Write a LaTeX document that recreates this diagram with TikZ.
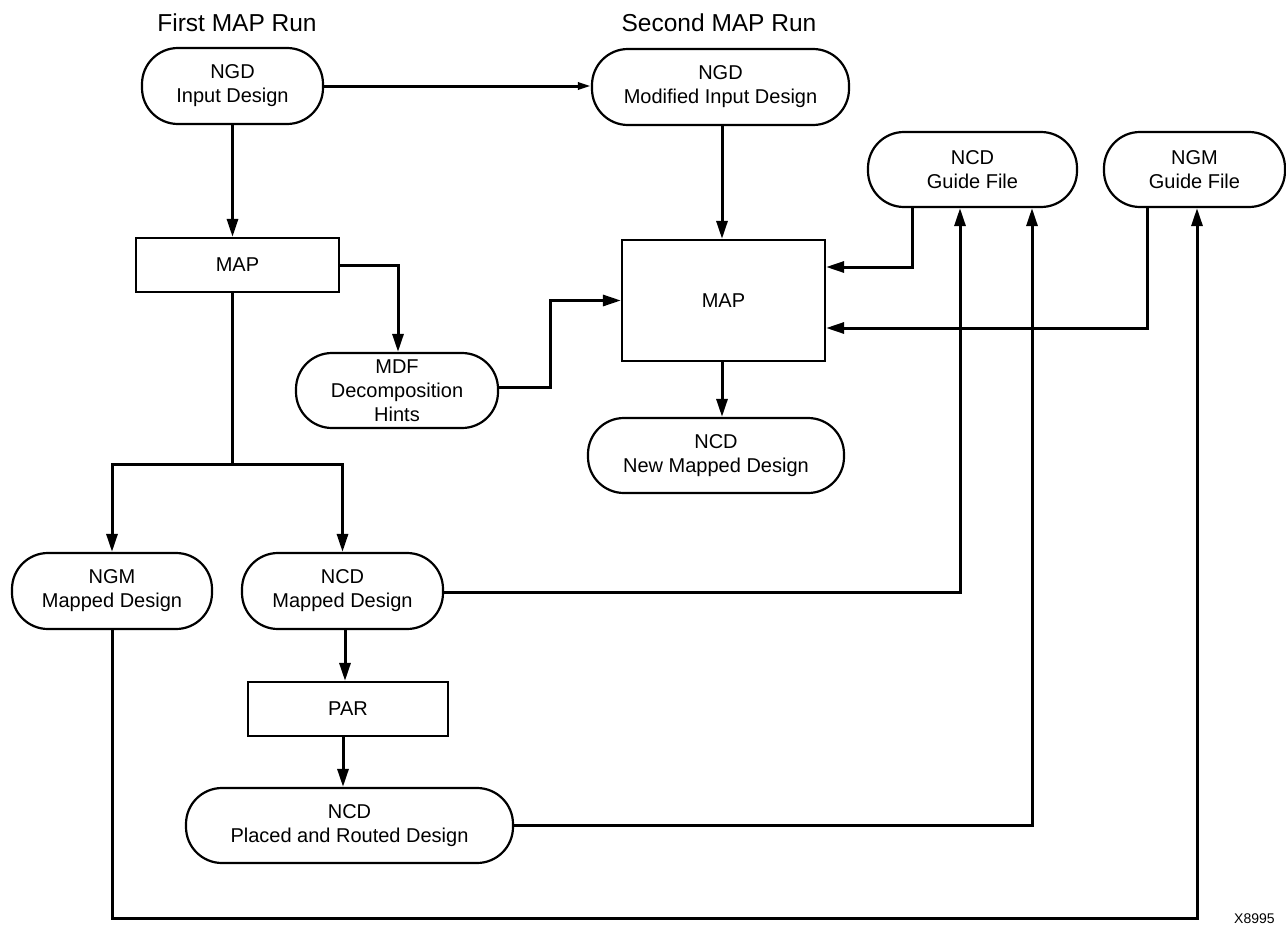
\documentclass[tikz,border=0pt]{standalone}
\usepackage{fontspec}
\setmainfont{Liberation Sans}
\usetikzlibrary{arrows.meta}
\newcommand{\bxf}{\fontsize{20}{24}\selectfont}
\newcommand{\ttlf}{\fontsize{24.5}{28}\selectfont}
\begin{document}
\begin{tikzpicture}[x=1pt,y=-1pt,
  term/.style={draw, line width=2.2pt, rounded corners=36pt, align=center, inner sep=0pt, font=\bxf},
  procbox/.style={draw, line width=2.2pt, align=center, inner sep=0pt, font=\bxf},
  conn/.style={line width=3pt, -{Triangle[length=18pt,width=11pt]}},
  smallconn/.style={line width=3pt, -{Triangle[length=13pt,width=7pt]}},
  plain/.style={line width=3pt},
  ttl/.style={inner sep=0pt, font=\ttlf}]
\useasboundingbox (0,0) rectangle (1286,926);
% titles
\node[ttl] (t1) at (237,23) {First MAP Run};
\node[ttl] (t2) at (719,23) {Second MAP Run};
% nodes
\node[term, minimum width=181pt, minimum height=76pt] (ngd1) at (232.5,86) {NGD\\Input Design};
\node[term, minimum width=257pt, minimum height=76pt] (ngd2) at (720.5,87) {NGD\\Modified Input Design};
\node[procbox, minimum width=203pt, minimum height=54pt] (map1) at (237.5,265) {MAP};
\node[procbox, minimum width=203pt, minimum height=121pt] (map2) at (723.5,300.5) {MAP};
\node[term, minimum width=209pt, minimum height=75pt] (ncdg) at (972.5,169.5) {NCD\\Guide File};
\node[term, minimum width=181pt, minimum height=75pt] (ngmg) at (1194.5,169.5) {NGM\\Guide File};
\node[term, minimum width=202pt, minimum height=75pt] (mdf) at (397,390.5) {MDF\\Decomposition\\Hints};
\node[term, minimum width=256pt, minimum height=75pt] (ncdnew) at (716,455.5) {NCD\\New Mapped Design};
\node[term, minimum width=200pt, minimum height=76pt] (ngmm) at (112,591) {NGM\\Mapped Design};
\node[term, minimum width=201pt, minimum height=76pt] (ncdm) at (342.5,591) {NCD\\Mapped Design};
\node[procbox, minimum width=200pt, minimum height=54pt] (par) at (348,709) {PAR};
\node[term, minimum width=327pt, minimum height=75pt] (pr) at (349.5,825.5) {NCD\\Placed and Routed Design};
\node[inner sep=0pt, anchor=base west, font=\fontsize{14}{16}\selectfont] (code) at (1234,923) {X8995};
% helper coordinates
\coordinate (junc) at (232.5,464);
\coordinate (botL) at (112,918);
\coordinate (botR) at (1197,918);
% connectors
\draw[smallconn] (ngd1.east) -- (ngd1.east -| ngd2.west);
\draw[conn] (ngd1.south) -- (ngd1.south |- map1.north);
\draw[conn] ([xshift=1.5pt]ngd2.south) -- ([xshift=1.5pt]ngd2.south |- map2.north);
\draw[conn] (map1.east) -| ([xshift=1pt]mdf.north);
\draw[conn] ([yshift=3.5pt]mdf.east) -- ++(51,0) |- (map2.west);
\draw[conn] ([xshift=-1.5pt]map2.south) -- ([xshift=-1.5pt]map2.south |- ncdnew.north);
\draw[conn] ([xshift=-60.5pt]ncdg.south) |- ([yshift=33.5pt]map2.east);
\draw[conn] ([xshift=-47.5pt]ngmg.south) |- ([yshift=-27.5pt]map2.east);
\draw[plain] (junc |- map1.south) -- (junc);
\draw[conn] (junc) -| (ngmm.north);
\draw[conn] (junc) -| (ncdm.north);
\draw[conn] ([yshift=-1pt]ncdm.east) -| ([xshift=-12.5pt]ncdg.south);
\draw[conn] ([xshift=2.5pt]ncdm.south) -- ([xshift=2.5pt]ncdm.south |- par.north);
\draw[conn] ([xshift=-5pt]par.south) -- ([xshift=-5pt]par.south |- pr.north);
\draw[conn] (pr.east) -| ([xshift=59.5pt]ncdg.south);
\draw[conn] (ngmm.south) -- (botL) -- (botR) -- (botR |- ngmg.south);
\end{tikzpicture}
\end{document}
